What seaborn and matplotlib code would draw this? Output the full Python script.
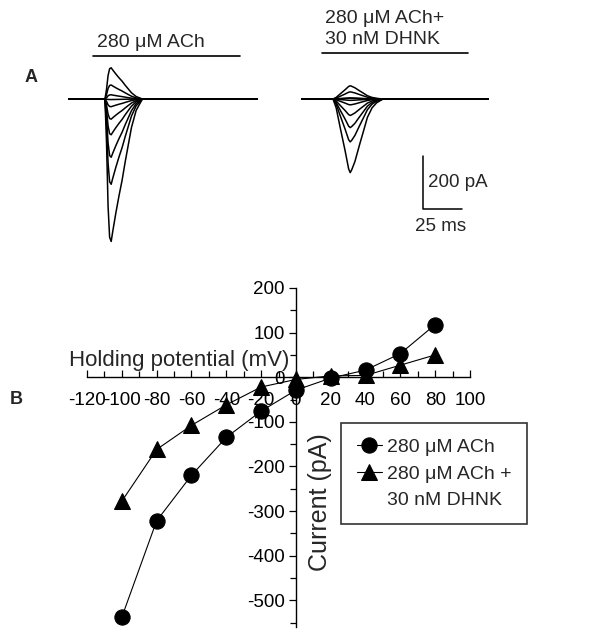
import pandas as pd
import seaborn as sns
import matplotlib.pyplot as plt
from matplotlib.lines import Line2D
from matplotlib.ticker import MultipleLocator

sns.set_theme(style="white")
plt.rcParams['font.family'] = ['Liberation Sans', 'DejaVu Sans']
plt.rcParams['axes.unicode_minus'] = False

# I-V data (panel B); also the peak of each trace in panel A
potential = [-100, -80, -60, -40, -20, 0, 20, 40, 60, 80]
ach = [-538, -322, -220, -135, -76, -29, -2, 16, 53, 118]
dhnk = [-278, -162, -108, -62, -22, -5, 3, 4, 27, 50]

lab_ach = "280 μM ACh"
lab_dhnk = "280 μM ACh +"
lab_dhnk2 = "30 nM DHNK"

# normalised current shape (ms after onset, fraction of peak)
fast_t = [0, 1, 2, 3, 4, 5, 7, 9, 11, 13, 15, 17, 20, 24]
fast_v = [0, 0.3, 0.75, 0.97, 1.0, 0.93, 0.8, 0.68, 0.57, 0.44, 0.32, 0.2, 0.08, 0]
slow_t = [0, 2, 4.5, 7.7, 10, 11, 12, 14, 17, 20, 22, 25, 28, 32]
slow_v = [0, 0.12, 0.38, 0.7, 0.95, 1.0, 0.96, 0.85, 0.62, 0.4, 0.25, 0.12, 0.05, 0]

scale_pa = 200
scale_ms = 25

W, H = 602, 630
fig = plt.figure(figsize=(W / 100, H / 100), dpi=100)


def box(l, t, r, b):
    return [l / W, 1 - b / H, (r - l) / W, (b - t) / H]


# ---------- panel A : traces ----------
ax_a = fig.add_axes(box(60, 0, 500, 260))
rows = []
groups = [('ach', ach, 5.8, 126.3, 28.8, fast_t, fast_v),
          ('dhnk', dhnk, 155.1, 274.4, 175.0, slow_t, slow_v)]
for name, amps, t0, t1, onset, tt, vv in groups:
    for vh, amp in zip(potential, amps):
        xs = [t0] + [onset + t for t in tt] + [t1]
        ys = [0] + [amp * v for v in vv] + [0]
        for x, y in zip(xs, ys):
            rows.append(dict(trace=f'{name}{vh}', t=x, i=y))
traces = pd.DataFrame(rows)
sns.lineplot(data=traces, x='t', y='i', units='trace', estimator=None,
             sort=False, color='black', lw=1.1, ax=ax_a)
ax_a.set_xlim(0, 282)
ax_a.set_ylim(-608, 374)
ax_a.axis('off')

ax_a.plot([21.2, 115.4], [162, 162], color='black', lw=1.2)
ax_a.text(58.3, 215, "280 μM ACh", ha='center', va='center', fontsize=14)
ax_a.plot([167.9, 261.5], [174, 174], color='black', lw=1.2)
ax_a.text(169.9, 266, "280 μM ACh+\n30 nM DHNK", ha='left', va='center',
          fontsize=14, linespacing=1.3)

# scale bar
sx, sy = 232.7, -415
ax_a.plot([sx, sx, sx + scale_ms], [sy + scale_pa, sy, sy], color='black', lw=1.1)
ax_a.text(sx + 3, sy + scale_pa / 2, f"{scale_pa} pA", ha='left', va='center', fontsize=13.5)
ax_a.text(sx + scale_ms / 2 - 1.5, -483, f"{scale_ms} ms", ha='center', va='center', fontsize=13.5)

fig.text(25 / W, 1 - 77 / H, "A", fontsize=13, fontweight='bold', ha='left', va='center')
fig.text(10 / W, 1 - 400 / H, "B", fontsize=13, fontweight='bold', ha='left', va='center')

# ---------- panel B : I-V ----------
ax_b = fig.add_axes(box(87, 288, 470, 627))
sns.lineplot(x=potential, y=ach, marker='o', color='black', lw=0.8,
             markersize=11, markeredgecolor='black', label=lab_ach, ax=ax_b)
sns.lineplot(x=potential, y=dhnk, marker='^', color='black', lw=0.8,
             markersize=12, markeredgecolor='black', label=lab_dhnk, ax=ax_b)
ax_b.set_xlim(-120, 100)
ax_b.set_ylim(-560, 200)
ax_b.set_xlabel('')
ax_b.set_ylabel('')

for s in ['top', 'right']:
    ax_b.spines[s].set_visible(False)
ax_b.spines['left'].set_position(('data', 0))
ax_b.spines['bottom'].set_position(('data', 0))
for s in ['left', 'bottom']:
    ax_b.spines[s].set_color('black')
    ax_b.spines[s].set_linewidth(1.0)

ax_b.set_xticks(range(-120, 101, 20))
ax_b.set_yticks(range(-500, 201, 100))
ax_b.xaxis.set_minor_locator(MultipleLocator(10))
ax_b.yaxis.set_minor_locator(MultipleLocator(50))
ax_b.tick_params(axis='x', which='both', bottom=True, direction='in', pad=11,
                 labelsize=13.5, color='black', labelcolor='black')
ax_b.tick_params(axis='y', which='both', left=True, direction='out', pad=3,
                 labelsize=13.5, color='black', labelcolor='black')
ax_b.tick_params(which='major', length=5, width=0.9)
ax_b.tick_params(which='minor', length=4, width=0.9)

ax_b.text(-130.3, 38, "Holding potential (mV)", ha='left', va='center', fontsize=16)
ax_b.text(13.8, -280, "Current (pA)", ha='center', va='center', rotation=90, fontsize=18)

handles, labels = ax_b.get_legend_handles_labels()
handles.append(Line2D([], [], linestyle='none', marker=None))
labels.append(lab_dhnk2)
leg = ax_b.legend(handles, labels, loc='upper left', bbox_to_anchor=(341 / W, 1 - 423 / H),
                  bbox_transform=fig.transFigure, frameon=True, fancybox=False,
                  edgecolor='black', fontsize=14, handlelength=1.3,
                  handletextpad=0.25, borderpad=0.8, labelspacing=0.45,
                  borderaxespad=0)
leg.get_frame().set_linewidth(1.2)

fig.savefig('out.png', dpi=100)
